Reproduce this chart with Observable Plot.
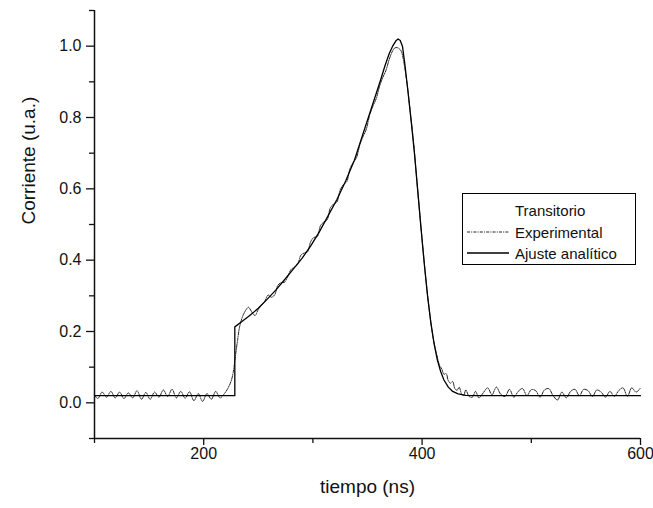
<!DOCTYPE html>
<html>
<head>
<meta charset="utf-8">
<script src="https://cdn.jsdelivr.net/npm/d3@7"></script>
<script src="https://cdn.jsdelivr.net/npm/@observablehq/plot@0.6"></script>
<style>
  html, body { margin: 0; padding: 0; background: #fff; }
  #wrap { position: relative; width: 653px; height: 508px; font-family: "Liberation Sans", Arial, sans-serif; }
  #legend { position: absolute; left: 462px; top: 193px; width: 174px; height: 72px; border: 1px solid #000; background: #fff; box-sizing: border-box; font-size: 15px; color: #111; }
  #legend .title { position: absolute; left: 52px; top: 8px; }
  #legend .row { position: absolute; left: 4px; height: 18px; display: flex; align-items: center; }
  #legend .row svg { margin-right: 6px; }
</style>
</head>
<body>
<div id="wrap"></div>
<script>
// x ticks (ns) and y ticks (u.a.)
const xMajorTicks = [200, 400, 600];
const xMinorTicks = [100, 300, 500];
const yMajorTicks = [0.0, 0.2, 0.4, 0.6, 0.8, 1.0];
const yMinorTicks = [-0.1, 0.1, 0.3, 0.5, 0.7, 0.9, 1.1];

// Ajuste analítico
const fitT = [100, 228.5, 228.5, 235, 241, 250, 258, 266, 274, 282, 290, 298, 306, 314, 322, 330, 338, 346, 354, 362, 366, 370, 373, 376, 378, 380, 382, 384, 387, 390, 393, 396, 399, 402, 405, 408, 411, 414, 417, 420, 424, 428, 433, 440, 450, 600];
const fitV = [0.02, 0.02, 0.213, 0.228, 0.242, 0.265, 0.290, 0.316, 0.345, 0.375, 0.405, 0.440, 0.480, 0.525, 0.570, 0.622, 0.680, 0.755, 0.830, 0.905, 0.945, 0.980, 1.000, 1.015, 1.020, 1.016, 1.000, 0.955, 0.875, 0.790, 0.700, 0.595, 0.490, 0.390, 0.300, 0.225, 0.165, 0.120, 0.088, 0.064, 0.044, 0.032, 0.025, 0.021, 0.020, 0.020];

// Experimental
const expT = [100, 103, 107, 111, 115, 119, 123, 127, 131, 135, 139, 143, 147, 151, 155, 159, 163, 167, 171, 175, 179, 183, 187, 191, 195, 199, 203, 207, 211, 215, 219, 222, 225, 227, 229, 231, 233, 236, 239, 241, 244, 247, 250, 253, 256, 259, 262, 265, 268, 271, 274, 277, 280, 283, 286, 289, 292, 295, 298, 301, 304, 307, 310, 313, 316, 319, 322, 325, 328, 331, 334, 337, 340, 343, 346, 349, 352, 355, 358, 361, 364, 367, 370, 373, 375, 377, 379, 381, 383, 386, 389, 392, 395, 398, 401, 404, 407, 410, 413, 416, 418, 420, 422, 424, 426, 428, 430, 432, 434, 436, 438, 440, 443, 446, 449, 452, 456, 460, 464, 468, 472, 476, 480, 484, 488, 492, 496, 500, 504, 508, 512, 516, 520, 524, 528, 532, 536, 540, 544, 548, 552, 556, 560, 564, 568, 572, 576, 580, 584, 588, 592, 596, 600];
const expV = [0.022, 0.012, 0.030, 0.016, 0.032, 0.014, 0.030, 0.012, 0.028, 0.014, 0.034, 0.010, 0.029, 0.010, 0.030, 0.016, 0.036, 0.018, 0.038, 0.014, 0.032, 0.013, 0.031, 0.006, 0.026, 0.004, 0.026, 0.010, 0.032, 0.014, 0.026, 0.040, 0.060, 0.085, 0.130, 0.175, 0.215, 0.245, 0.262, 0.268, 0.255, 0.245, 0.262, 0.274, 0.285, 0.302, 0.296, 0.303, 0.330, 0.337, 0.338, 0.354, 0.374, 0.380, 0.388, 0.414, 0.420, 0.423, 0.452, 0.464, 0.466, 0.497, 0.507, 0.513, 0.547, 0.557, 0.563, 0.597, 0.612, 0.620, 0.657, 0.674, 0.688, 0.724, 0.747, 0.768, 0.807, 0.832, 0.853, 0.887, 0.912, 0.933, 0.964, 0.987, 0.995, 0.996, 0.993, 0.985, 0.960, 0.900, 0.820, 0.735, 0.630, 0.525, 0.425, 0.330, 0.250, 0.185, 0.140, 0.105, 0.095, 0.080, 0.082, 0.062, 0.055, 0.060, 0.040, 0.035, 0.044, 0.026, 0.020, 0.036, 0.018, 0.016, 0.032, 0.014, 0.028, 0.042, 0.023, 0.044, 0.024, 0.018, 0.038, 0.016, 0.032, 0.040, 0.020, 0.037, 0.034, 0.016, 0.036, 0.040, 0.020, 0.008, 0.030, 0.014, 0.032, 0.038, 0.020, 0.038, 0.034, 0.018, 0.036, 0.030, 0.016, 0.032, 0.018, 0.034, 0.042, 0.018, 0.042, 0.030, 0.042];

const fit = fitT.map((t, i) => ({t, v: fitV[i]}));
const exp = expT.map((t, i) => ({t, v: expV[i]}));

const chart = Plot.plot({
  width: 653,
  height: 508,
  marginLeft: 94,
  marginRight: 13,
  marginTop: 10,
  marginBottom: 70,
  x: {domain: [100, 600]},
  y: {domain: [-0.1, 1.1]},
  style: {fontFamily: "'Liberation Sans', Arial, sans-serif", fontSize: "16px", color: "#111", background: "#fff"},
  marks: [
    Plot.axisX(xMajorTicks, {tickSize: 7, tickPadding: 2, tickFormat: d => String(d), label: null, strokeWidth: 1.3}),
    Plot.axisX(xMinorTicks, {tickSize: 5, tickFormat: () => "", label: null, strokeWidth: 1.3}),
    Plot.axisY(yMajorTicks, {tickSize: 8, tickPadding: 5, tickFormat: d => d.toFixed(1), label: null, strokeWidth: 1.3}),
    Plot.axisY(yMinorTicks, {tickSize: 5, tickFormat: () => "", label: null, strokeWidth: 1.3}),
    Plot.ruleX([100], {strokeWidth: 1.5}),
    Plot.ruleY([-0.1], {strokeWidth: 1.5}),
    Plot.line(exp, {x: "t", y: "v", stroke: "#222", strokeWidth: 1, strokeDasharray: "3,1.2,1,1.2", curve: "catmull-rom"}),
    Plot.line(fit, {x: "t", y: "v", stroke: "#000", strokeWidth: 1.3}),
    Plot.text(["tiempo (ns)"], {frameAnchor: "bottom", dy: 54, fontSize: 19, fill: "#111"}),
    Plot.text(["Corriente (u.a.)"], {frameAnchor: "left", dx: -66, rotate: -90, fontSize: 19, fill: "#111"})
  ]
});

const wrap = document.getElementById("wrap");
wrap.appendChild(chart);

const legend = document.createElement("div");
legend.id = "legend";
legend.innerHTML = `
  <div class="title">Transitorio</div>
  <div class="row" style="top:29px"><svg width="42" height="4"><line x1="0" y1="2" x2="42" y2="2" stroke="#222" stroke-width="1" stroke-dasharray="3,1.2,1,1.2"/></svg>Experimental</div>
  <div class="row" style="top:50px"><svg width="42" height="4"><line x1="0" y1="2" x2="42" y2="2" stroke="#000" stroke-width="1.3"/></svg>Ajuste analítico</div>`;
wrap.appendChild(legend);
</script>
</body>
</html>
